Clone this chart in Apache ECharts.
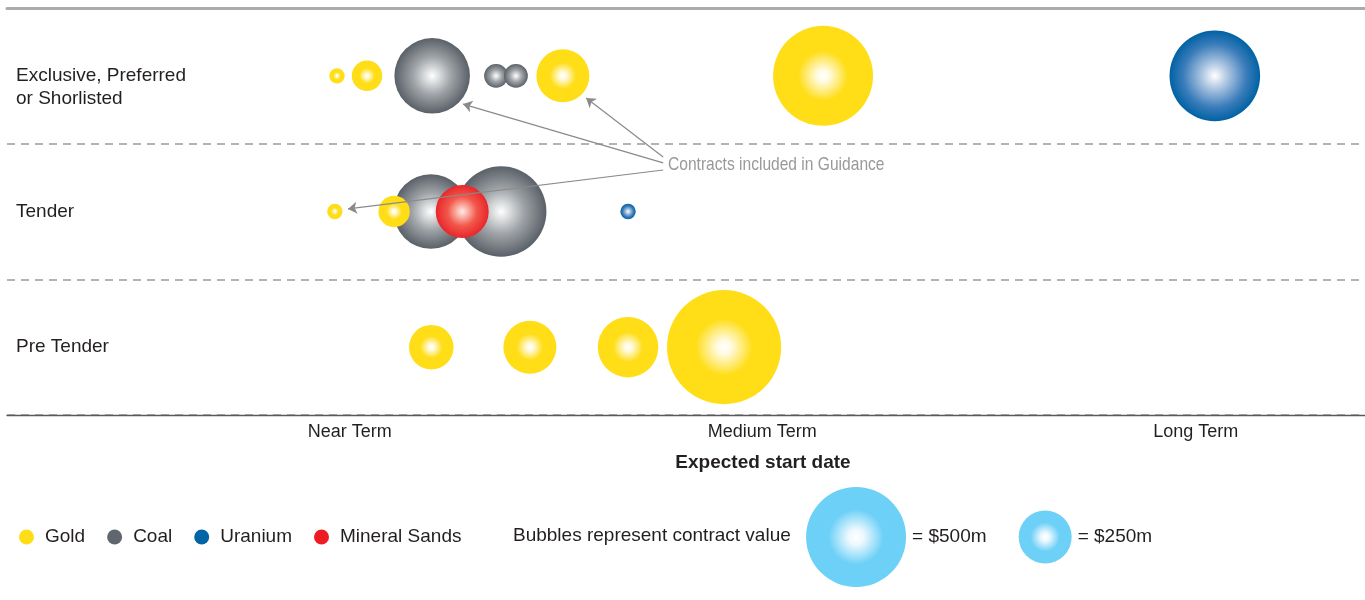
<!DOCTYPE html>
<html>
<head>
<meta charset="utf-8">
<script src="https://cdn.jsdelivr.net/npm/echarts@6/dist/echarts.min.js"></script>
<style>
html,body{margin:0;padding:0;background:#fff;}
#chart{width:1365px;height:600px;}
</style>
</head>
<body>
<div id="chart"></div>
<script>
// ---- data ----
const rowNames = ['Exclusive, Preferred\nor Shorlisted', 'Tender', 'Pre Tender'];
const xTickLabels = ['Near Term', 'Medium Term', 'Long Term'];
const xTickValues = [1, 1.975, 3];
// [timing position, row index, contract value $m]
const gold = [
  [0.970, 0, 50], [1.041, 0, 130], [1.504, 0, 250], [2.119, 0, 500],
  [0.965, 1, 50], [1.105, 1, 135],
  [1.193, 2, 205], [1.426, 2, 250], [1.658, 2, 290], [1.885, 2, 575]
];
const coal = [
  [1.195, 0, 370], [1.346, 0, 95], [1.393, 0, 95],
  [1.192, 1, 365], [1.358, 1, 450]
];
const uranium = [[3.045, 0, 450], [1.658, 1, 50]];
const mineralSands = [[1.266, 1, 250]];
const scaleValues = [500, 250];
const scaleTiming = [2.197, 2.644];
// annotation arrows: [from timing, from row pos, to timing, to row pos]
const guidanceArrows = [
  [1.741, 1.142, 1.268, 0.708],
  [1.741, 1.098, 1.559, 0.663],
  [1.741, 1.194, 0.996, 1.481]
];

const FONT = "'Liberation Sans', Arial, sans-serif";
const TXT = '#231f20';
const sizeOf = v => 6 + 0.188 * v;
const toPts = arr => arr.map(d => [d[0], d[1] + 0.5, d[2]]);
const radial = stops => ({type: 'radial', x: 0.5, y: 0.5, r: 0.5,
  colorStops: stops.map(s => ({offset: s[0], color: s[1]}))});

const goldFill = radial([[0, '#ffffff'], [0.12, '#fffbe3'], [0.5, '#ffdd17'], [1, '#ffdd17']]);
const coalFill = radial([[0, '#ffffff'], [0.5, '#a0a4a8'], [1, '#596067']]);
const uraFill = radial([[0, '#ffffff'], [0.3, '#a9c3e0'], [0.7, '#3a7cba'], [1, '#0062a4']]);
const sandFill = radial([[0, '#ffece4'], [0.55, '#f2574a'], [1, '#e9262b']]);
const scaleFill = radial([[0, '#ffffff'], [0.15, '#eef9fe'], [0.55, '#6dd0f7'], [1, '#6dd0f7']]);

const XMIN = 0.19, XMAX = 3.4;

const chart = echarts.init(document.getElementById('chart'), null, {renderer: 'canvas'});
chart.setOption({
  animation: false,
  backgroundColor: '#ffffff',
  textStyle: {fontFamily: FONT},
  title: {
    text: 'Bubbles represent contract value',
    left: 513, top: 526, padding: 0,
    textStyle: {fontSize: 19, fontWeight: 'normal', color: TXT, fontFamily: FONT}
  },
  legend: {
    left: 19, top: 527.5, padding: 0,
    icon: 'circle', itemWidth: 15, itemHeight: 15, itemGap: 22,
    selectedMode: false,
    textStyle: {fontSize: 19, color: TXT, fontFamily: FONT, padding: [0, 0, 0, 6]},
    data: [
      {name: 'Gold', itemStyle: {color: '#ffdd17', opacity: 1}},
      {name: 'Coal', itemStyle: {color: '#5f666d', opacity: 1}},
      {name: 'Uranium', itemStyle: {color: '#0064a6', opacity: 1}},
      {name: 'Mineral Sands', itemStyle: {color: '#ed1c24', opacity: 1}}
    ]
  },
  grid: [
    {left: 7, right: 0, top: 8, bottom: 185, outerBoundsMode: 'none'},
    {left: 7, right: 0, top: 487, height: 100, outerBoundsMode: 'none'}
  ],
  xAxis: [
    {
      type: 'value', gridIndex: 0, position: 'bottom', min: XMIN, max: XMAX,
      axisLine: {show: true, onZero: false, lineStyle: {color: '#58595b', width: 1.3}},
      axisTick: {show: false}, splitLine: {show: false},
      axisLabel: {
        customValues: xTickValues,
        formatter: v => xTickLabels[xTickValues.indexOf(v)],
        fontSize: 18, color: TXT, margin: 8, fontFamily: FONT
      },
      name: 'Expected start date', nameLocation: 'middle', nameGap: 38,
      nameTextStyle: {fontSize: 19, fontWeight: 'bold', color: TXT, fontFamily: FONT, padding: [0, 0, 0, 154]}
    },
    {
      type: 'value', gridIndex: 0, position: 'top', min: XMIN, max: XMAX,
      axisLine: {show: true, onZero: false, lineStyle: {color: '#ababab', width: 3}},
      axisTick: {show: false}, axisLabel: {show: false}, splitLine: {show: false}
    },
    {type: 'value', gridIndex: 1, min: XMIN, max: XMAX, show: false}
  ],
  yAxis: [
    {
      type: 'value', gridIndex: 0, min: 0, max: 3, interval: 1, inverse: true,
      axisLine: {show: false}, axisTick: {show: false},
      splitLine: {show: true, lineStyle: {color: '#9a9a9a', width: 1.5, type: [8, 6]}},
      axisLabel: {
        inside: true, margin: 9,
        customValues: [0.5, 1.5, 2.5],
        formatter: v => {
          const n = rowNames[Math.floor(v)];
          return n.indexOf('\n') >= 0 ? '\n' + n : n;
        },
        fontSize: 19, lineHeight: 23, color: TXT, fontFamily: FONT
      }
    },
    {type: 'value', gridIndex: 1, min: 0, max: 1, show: false}
  ],
  graphic: [{
    type: 'text', x: 668, y: 165, scaleX: 0.82, silent: true,
    style: {text: 'Contracts included in Guidance', fill: '#98999b',
      font: '19px ' + FONT, verticalAlign: 'middle', align: 'left'}
  }],
  series: [
    {name: 'Gold', type: 'scatter', z: 3, data: toPts(gold), symbolSize: d => sizeOf(d[2]),
      itemStyle: {color: goldFill, opacity: 1}, emphasis: {disabled: true}},
    {name: 'Coal', type: 'scatter', z: 2, data: toPts(coal), symbolSize: d => sizeOf(d[2]),
      itemStyle: {color: coalFill, opacity: 1}, emphasis: {disabled: true}},
    {name: 'Uranium', type: 'scatter', z: 4, data: toPts(uranium), symbolSize: d => sizeOf(d[2]),
      itemStyle: {color: uraFill, opacity: 1}, emphasis: {disabled: true}},
    {name: 'Mineral Sands', type: 'scatter', z: 4, data: toPts(mineralSands), symbolSize: d => sizeOf(d[2]),
      itemStyle: {color: sandFill, opacity: 1}, emphasis: {disabled: true}},
    {name: 'annotations', type: 'scatter', z: 6, data: [], silent: true,
      markLine: {
        silent: true, symbol: ['none', 'arrow'], symbolSize: 9,
        label: {show: false},
        lineStyle: {color: '#8a8a8a', width: 1.2, type: 'solid', opacity: 1},
        itemStyle: {color: '#8a8a8a'},
        data: guidanceArrows.map(a => [{coord: [a[0], a[1]]}, {coord: [a[2], a[3]]}])
      }},
    {name: 'scale', type: 'scatter', xAxisIndex: 2, yAxisIndex: 1,
      data: scaleValues.map((v, i) => [scaleTiming[i], 0.5, v]),
      symbolSize: d => sizeOf(d[2]),
      itemStyle: {color: scaleFill, opacity: 1}, emphasis: {disabled: true},
      label: {show: true, position: 'right', distance: 6, fontSize: 19, color: TXT, opacity: 1, fontFamily: FONT,
        formatter: p => '= $' + p.value[2] + 'm'}}
  ]
});
</script>
</body>
</html>
